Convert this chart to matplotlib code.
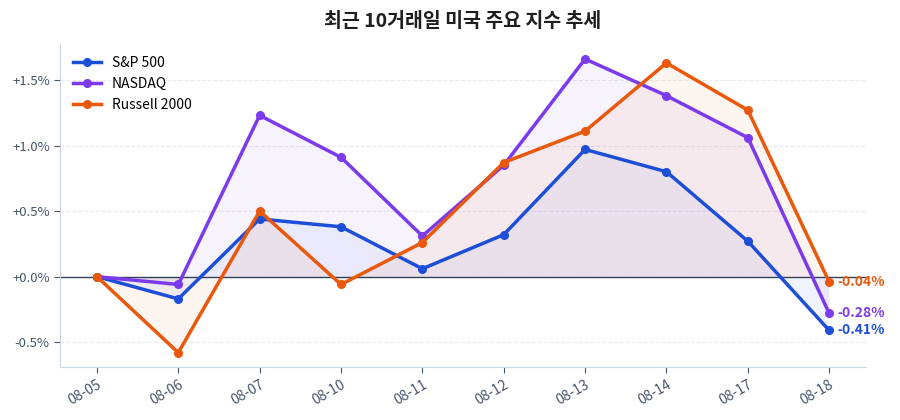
import matplotlib
matplotlib.use("Agg")
import matplotlib.pyplot as plt
import numpy as np

plt.rcParams["font.family"] = ["Noto Sans CJK KR", "DejaVu Sans"]

dates = ["08-05", "08-06", "08-07", "08-10", "08-11",
         "08-12", "08-13", "08-14", "08-17", "08-18"]
sp500 = [0.00, -0.17, 0.44, 0.38, 0.06, 0.32, 0.97, 0.80, 0.27, -0.41]
nasdaq = [0.00, -0.06, 1.23, 0.91, 0.31, 0.85, 1.66, 1.38, 1.06, -0.28]
russell = [0.00, -0.58, 0.50, -0.06, 0.26, 0.87, 1.11, 1.63, 1.27, -0.04]

series = [("S&P 500", sp500, "#1d4ed8"),
          ("NASDAQ", nasdaq, "#7c3aed"),
          ("Russell 2000", russell, "#ea580c")]

fig, ax = plt.subplots(figsize=(9, 4.2), dpi=100)
x = np.arange(len(dates))

for name, vals, color in series:
    ax.fill_between(x, vals, 0, color=color, alpha=0.06, linewidth=0)
    ax.plot(x, vals, "o-", color=color, lw=2.5, ms=5.5, label=name, zorder=3)
    ax.annotate(f"{vals[-1]:+.2f}%", (x[-1], vals[-1]), xytext=(6, 0),
                textcoords="offset points", va="center", ha="left",
                color=color, fontsize=10, fontweight="bold")

ax.axhline(0, color="#334155", lw=1, zorder=2)
ax.set_xticks(x)
ax.set_xticklabels(dates, rotation=30, ha="right", rotation_mode="anchor")
ax.set_yticks([-0.5, 0.0, 0.5, 1.0, 1.5])
ax.set_yticklabels(["-0.5%", "+0.0%", "+0.5%", "+1.0%", "+1.5%"])
ax.set_xlim(-0.45, 9.45)
ax.set_ylim(-0.69, 1.78)
ax.grid(axis="y", color="#e8ebf0", ls="--", lw=0.8)
ax.set_axisbelow(True)
for s in ["top", "right"]:
    ax.spines[s].set_visible(False)
for s in ["left", "bottom"]:
    ax.spines[s].set_color("#cbd5e1")
ax.tick_params(colors="#475569", labelsize=9.5, length=4)
ax.tick_params(axis="x", labelsize=10)

ax.legend(loc="upper left", frameon=False, fontsize=10)
ax.set_title("최근 10거래일 미국 주요 지수 추세", fontsize=14, fontweight="bold",
             color="#1e1e1e", pad=12)

fig.subplots_adjust(left=0.067, right=0.962, top=0.897, bottom=0.126)
fig.savefig("out.png", dpi=100)
